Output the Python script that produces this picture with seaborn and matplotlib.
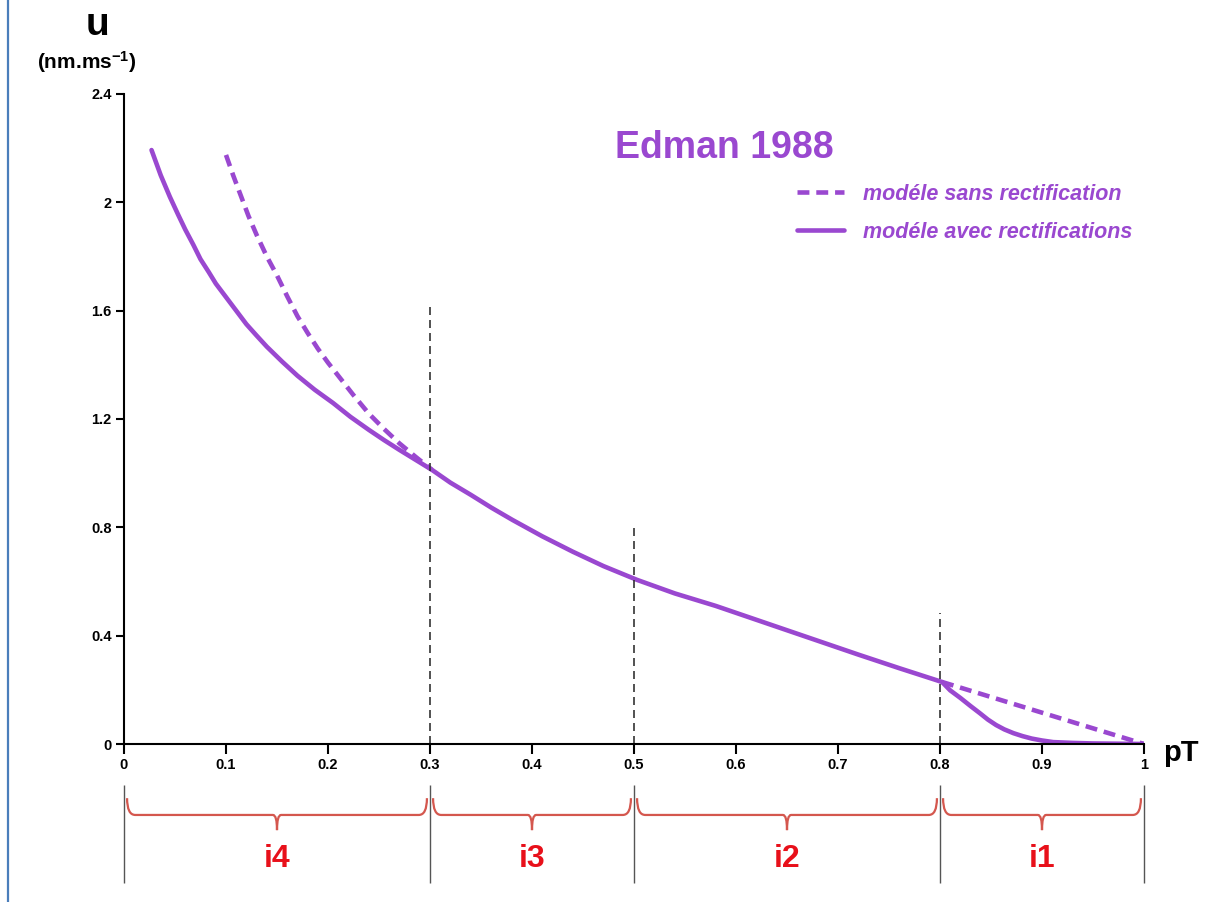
import matplotlib
matplotlib.use('Agg')
import matplotlib.pyplot as plt
import seaborn as sns
import pandas as pd
from matplotlib.path import Path
from matplotlib.patches import PathPatch
from matplotlib.lines import Line2D

# values
solid_x = [0.027, 0.036, 0.045, 0.053, 0.06, 0.068, 0.075, 0.083, 0.09, 0.097, 0.104, 0.112,
           0.12, 0.13, 0.14, 0.155, 0.17, 0.187, 0.205, 0.222, 0.24, 0.255, 0.27, 0.286,
           0.302, 0.32, 0.34, 0.36, 0.381, 0.41, 0.44, 0.47, 0.503, 0.54, 0.58, 0.615, 0.65,
           0.685, 0.72, 0.76, 0.802, 0.81, 0.82, 0.83, 0.839, 0.847, 0.855, 0.863, 0.872,
           0.881, 0.89, 0.9, 0.911, 0.93, 0.95, 0.975, 1.0]
solid_y = [2.193, 2.10, 2.02, 1.955, 1.90, 1.843, 1.79, 1.743, 1.70, 1.665, 1.63, 1.59,
           1.55, 1.508, 1.467, 1.412, 1.36, 1.308, 1.259, 1.208, 1.16, 1.122, 1.086, 1.049,
           1.012, 0.965, 0.92, 0.873, 0.827, 0.767, 0.71, 0.657, 0.606, 0.556, 0.51, 0.465,
           0.42, 0.375, 0.33, 0.28, 0.229, 0.198, 0.17, 0.14, 0.114, 0.09, 0.07, 0.054, 0.04,
           0.029, 0.02, 0.013, 0.007, 0.004, 0.002, 0.001, 0.0]

dashed_left_x = [0.1, 0.107, 0.115, 0.122, 0.13, 0.14, 0.15, 0.16, 0.17, 0.18, 0.19, 0.2,
                 0.21, 0.225, 0.24, 0.255, 0.27, 0.286, 0.302]
dashed_left_y = [2.175, 2.10, 2.02, 1.95, 1.88, 1.80, 1.73, 1.653, 1.58, 1.518, 1.46, 1.408,
                 1.36, 1.288, 1.22, 1.163, 1.11, 1.06, 1.012]
dashed_right_x = [0.802, 1.0]
dashed_right_y = [0.229, 0.0]

bounds = [0, 0.3, 0.5, 0.8, 1.0]
bound_tops = [1.63, 0.80, 0.485]   # dashed guides at 0.3, 0.5, 0.8
interval_labels = ['i4', 'i3', 'i2', 'i1']

x_ticks = [0, 0.1, 0.2, 0.3, 0.4, 0.5, 0.6, 0.7, 0.8, 0.9, 1.0]
x_ticklabels = ['0', '0.1', '0.2', '0.3', '0.4', '0.5', '0.6', '0.7', '0.8', '0.9', '1']
y_ticks = [0, 0.4, 0.8, 1.2, 1.6, 2.0, 2.4]
y_ticklabels = ['0', '0.4', '0.8', '1.2', '1.6', '2', '2.4']

legend_labels = ['modéle sans rectification', 'modéle avec rectifications']

PURPLE = '#9a48d0'
BRACE = '#d4574e'
RED = '#e8101a'

sns.set_style('ticks')
plt.rcParams['font.family'] = ['Liberation Sans', 'DejaVu Sans']
plt.rcParams['font.weight'] = 'bold'
plt.rcParams['text.color'] = 'black'
plt.rcParams['xtick.color'] = 'black'
plt.rcParams['ytick.color'] = 'black'
plt.rcParams['mathtext.fontset'] = 'custom'
plt.rcParams['mathtext.rm'] = 'Liberation Sans:bold'
plt.rcParams['mathtext.default'] = 'rm'

fig = plt.figure(figsize=(12.18, 9.02), dpi=100)
ax = fig.add_axes([124 / 1218, 158 / 902, 1020 / 1218, 650 / 902])

df_solid = pd.DataFrame({'pT': solid_x, 'u': solid_y})
df_dl = pd.DataFrame({'pT': dashed_left_x, 'u': dashed_left_y})
df_dr = pd.DataFrame({'pT': dashed_right_x, 'u': dashed_right_y})

dash = (0, (2.6, 1.5))
sns.lineplot(data=df_dl, x='pT', y='u', ax=ax, color=PURPLE, lw=3.3, linestyle=dash,
             sort=False, estimator=None)
sns.lineplot(data=df_dr, x='pT', y='u', ax=ax, color=PURPLE, lw=3.3, linestyle=dash,
             sort=False, estimator=None)
sns.lineplot(data=df_solid, x='pT', y='u', ax=ax, color=PURPLE, lw=3.3,
             sort=False, estimator=None)

# guide lines at the interval bounds
ax.vlines(bounds[1:4], 0, bound_tops, colors='#333333', lw=1.2,
          linestyles=[(0, (4.8, 3))])

ax.set_xlim(0, 1)
ax.set_ylim(0, 2.4)
ax.set_xticks(x_ticks)
ax.set_xticklabels(x_ticklabels)
ax.set_yticks(y_ticks)
ax.set_yticklabels(y_ticklabels)
ax.set_xlabel('')
ax.set_ylabel('')
ax.tick_params(axis='x', direction='out', length=7, width=1.5, labelsize=10.5, pad=3)
ax.tick_params(axis='y', direction='out', length=6, width=1.5, labelsize=10.5, pad=3)
for side in ['top', 'right']:
    ax.spines[side].set_visible(False)
for side in ['left', 'bottom']:
    ax.spines[side].set_linewidth(1.5)
    ax.spines[side].set_color('black')

# intervals below the axis
ax.vlines(bounds, -0.15, -0.515, colors='#555555', lw=1, clip_on=False)


def brace_path(x0, x1, top, mid, tip, de=0.008, dc=0.004):
    xc = (x0 + x1) / 2
    verts = [(x0, top), (x0, mid), (x0 + de, mid),
             (xc - dc, mid),
             (xc, mid), (xc, tip),
             (xc, mid), (xc + dc, mid),
             (x1 - de, mid),
             (x1, mid), (x1, top)]
    codes = [Path.MOVETO, Path.CURVE3, Path.CURVE3,
             Path.LINETO,
             Path.CURVE3, Path.CURVE3,
             Path.CURVE3, Path.CURVE3,
             Path.LINETO,
             Path.CURVE3, Path.CURVE3]
    return Path(verts, codes)


for a, b, lab in zip(bounds[:-1], bounds[1:], interval_labels):
    p = brace_path(a + 0.003, b - 0.003, -0.2, -0.262, -0.318)
    ax.add_patch(PathPatch(p, fc='none', ec=BRACE, lw=1.6, clip_on=False))
    ax.text((a + b) / 2, -0.425, lab, color=RED, fontsize=23, fontweight='bold',
            ha='center', va='center', clip_on=False)

# legend
handles = [Line2D([], [], color=PURPLE, lw=3.3, linestyle=(0, (2.6, 1.5))),
           Line2D([], [], color=PURPLE, lw=3.3)]
ax.legend(handles, legend_labels, loc='upper left', bbox_to_anchor=(797 / 1218, 1 - 184 / 902),
          bbox_transform=fig.transFigure, frameon=False, borderpad=0, borderaxespad=0,
          handlelength=2.2, handletextpad=0.85, labelspacing=0.78, labelcolor=PURPLE,
          prop={'family': 'Liberation Sans', 'style': 'italic', 'weight': 'bold', 'size': 15.5})

fig.text(724 / 1218, 1 - 148 / 902, 'Edman 1988', color=PURPLE, fontsize=27,
         fontweight='bold', ha='center', va='center')
fig.text(97 / 1218, 1 - 25 / 902, 'u', fontsize=28, fontweight='bold', ha='center', va='center')
fig.text(87 / 1218, 1 - 62 / 902, '(nm.ms$^{-1}$)', fontsize=15, fontweight='bold',
         ha='center', va='center')
fig.text(1181 / 1218, 1 - 753 / 902, 'pT', fontsize=21, fontweight='bold', ha='center', va='center')

# left border line
fig.add_artist(Line2D([8 / 1218, 8 / 1218], [0, 1], transform=fig.transFigure,
                      color='#4a7ebb', lw=1.6))

fig.savefig('out.png', dpi=100, facecolor='white')
